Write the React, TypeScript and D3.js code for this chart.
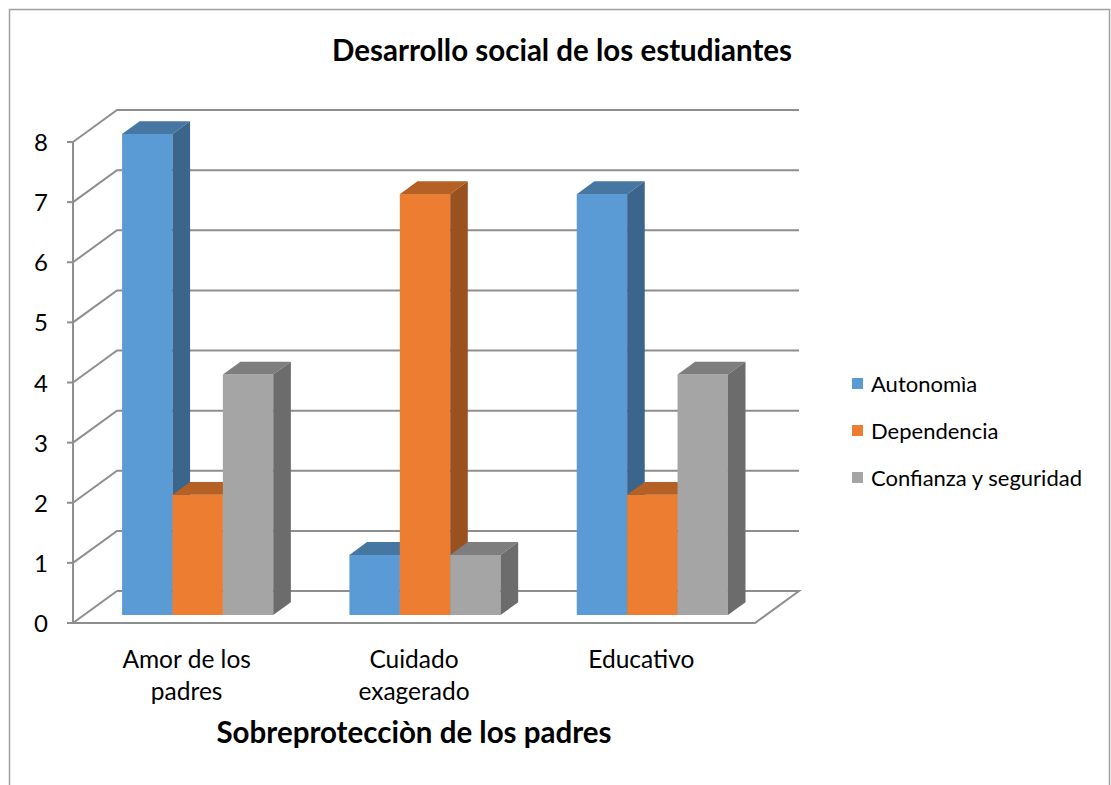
import React from "react";
import * as d3 from "d3";

const categories = [["Amor de los", "padres"], ["Cuidado", "exagerado"], ["Educativo"]];
const seriesNames = ["Autonomìa", "Dependencia", "Confianza y seguridad"];
const autonomia = [8, 1, 7];
const dependencia = [2, 7, 2];
const confianza = [4, 1, 4];
const seriesValues = [autonomia, dependencia, confianza];
const yTicks = [0, 1, 2, 3, 4, 5, 6, 7, 8];
const colors = ["#5b9bd5", "#ed7d31", "#a5a5a5"];
const title = "Desarrollo social de los estudiantes";
const xTitle = "Sobreprotecciòn de los padres";

const FONT = "Lato, 'Open Sans', sans-serif";

export default function App() {
  const x0 = 73, x1 = 755;
  const DX = 44, DY = -32;
  const y = d3.scaleLinear().domain([0, 8]).range([623, 142]);
  const xb = d3.scaleBand<number>().domain([0, 1, 2]).range([x0, x1]).paddingInner(0).paddingOuter(0);
  const groupFrac = 0.665;
  const fFront = 0.25, fBack = 0.65;
  const gridColor = "#8e8e8e";

  const bars: JSX.Element[] = [];
  categories.forEach((_, ci) => {
    const bw = xb.bandwidth() * groupFrac;
    const gStart = (xb(ci) as number) + (xb.bandwidth() - bw) / 2;
    const w = bw / 3;
    seriesValues.forEach((vals, si) => {
      const v = vals[ci];
      const c = d3.color(colors[si])!;
      const top = c.darker(0.75).formatHex();
      const side = c.darker(1.2).formatHex();
      const fx = gStart + si * w + DX * fFront;
      const fy0 = y(0) + DY * fFront;
      const fy1 = y(v) + DY * fFront;
      const bdx = DX * (fBack - fFront), bdy = DY * (fBack - fFront);
      const key = `${ci}-${si}`;
      bars.push(
        <g key={key}>
          <rect x={fx} y={fy1} width={w} height={fy0 - fy1} fill={colors[si]} />
          <polygon
            points={`${fx},${fy1} ${fx + w},${fy1} ${fx + w + bdx},${fy1 + bdy} ${fx + bdx},${fy1 + bdy}`}
            fill={top}
          />
          <polygon
            points={`${fx + w},${fy1} ${fx + w + bdx},${fy1 + bdy} ${fx + w + bdx},${fy0 + bdy} ${fx + w},${fy0}`}
            fill={side}
          />
        </g>
      );
    });
  });

  return (
    <svg width={1111} height={785} style={{ position: "absolute", left: 0, top: 0, background: "#fff" }}>
      <rect x={9.5} y={9.5} width={1100} height={800} fill="#fff" stroke="#a0a0a0" strokeWidth={1.5} />
      <text x={562} y={61} textAnchor="middle" fontFamily={FONT} fontWeight="bold" fontSize={29.5} fill="#000">
        {title}
      </text>
      {yTicks.map((t) =>
        t === 0 ? (
          <polyline
            key={t}
            points={`${x0 + DX},${y(0) + DY} ${x1 + DX},${y(0) + DY} ${x1},${y(0)} ${x0},${y(0)} ${x0 + DX},${y(0) + DY}`}
            fill="none"
            stroke={gridColor}
            strokeWidth={2}
          />
        ) : (
          <polyline
            key={t}
            points={`${x0},${y(t)} ${x0 + DX},${y(t) + DY} ${x1 + DX},${y(t) + DY}`}
            fill="none"
            stroke={gridColor}
            strokeWidth={2}
          />
        )
      )}
      <line x1={x0} x2={x0} y1={y(8)} y2={y(0)} stroke={gridColor} strokeWidth={2} />
      {yTicks.map((t) => (
        <g key={"tk" + t}>
          <line x1={x0 - 6} x2={x0} y1={y(t)} y2={y(t)} stroke={gridColor} strokeWidth={2} />
          <text x={41} y={y(t) + 9} textAnchor="middle" fontFamily={FONT} fontSize={24} fill="#000">
            {t}
          </text>
        </g>
      ))}
      {bars}
      {categories.map((lines, ci) => (
        <text
          key={"c" + ci}
          x={(xb(ci) as number) + xb.bandwidth() / 2}
          y={668}
          textAnchor="middle"
          fontFamily={FONT}
          fontSize={24.5}
          fill="#000"
        >
          {lines.map((l, li) => (
            <tspan key={li} x={(xb(ci) as number) + xb.bandwidth() / 2} dy={li === 0 ? 0 : 32}>
              {l}
            </tspan>
          ))}
        </text>
      ))}
      <text x={414} y={743} textAnchor="middle" fontFamily={FONT} fontWeight="bold" fontSize={29.5} fill="#000">
        {xTitle}
      </text>
      {seriesNames.map((n, i) => (
        <g key={"l" + i}>
          <rect x={852} y={378 + i * 47} width={11} height={11} fill={colors[i]} />
          <text x={871} y={392 + i * 47} fontFamily={FONT} fontSize={22} fill="#000">
            {n}
          </text>
        </g>
      ))}
    </svg>
  );
}
